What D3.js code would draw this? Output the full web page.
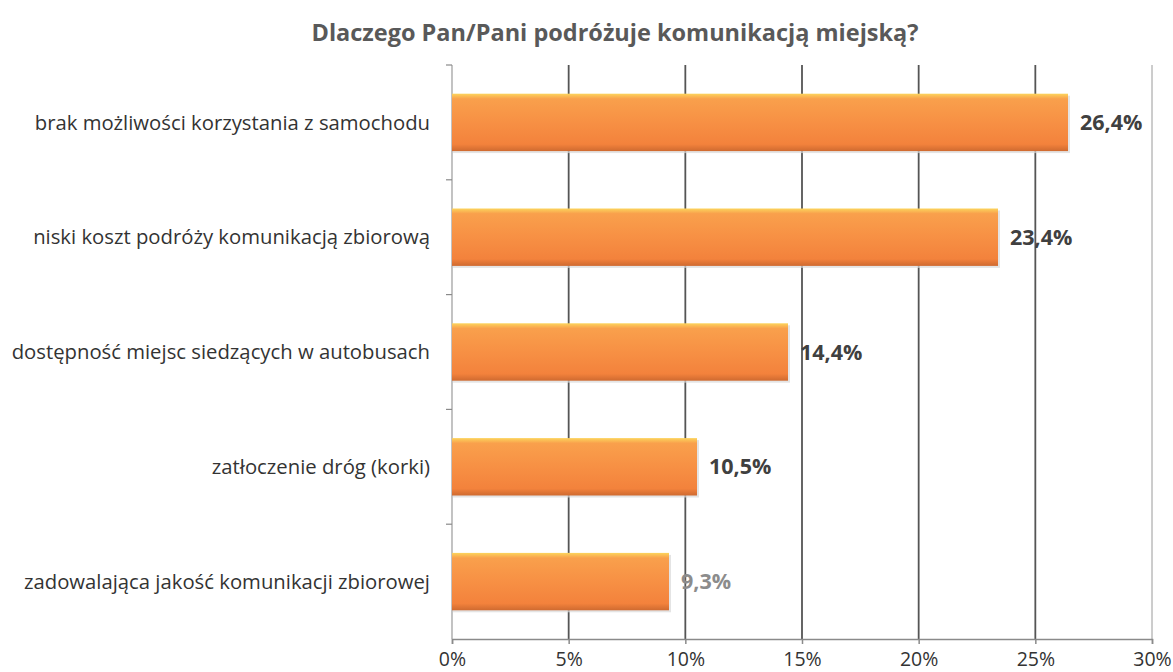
<!DOCTYPE html>
<html>
<head>
<meta charset="utf-8">
<script src="https://cdn.jsdelivr.net/npm/d3@7"></script>
<style>
  body { margin: 0; background: #fff; }
  text { font-family: "Open Sans", "Noto Sans", sans-serif; }
</style>
</head>
<body>
<div id="chart"></div>
<script>
// chart data
const categories = [
  "brak możliwości korzystania z samochodu",
  "niski koszt podróży komunikacją zbiorową",
  "dostępność miejsc siedzących w autobusach",
  "zatłoczenie dróg (korki)",
  "zadowalająca jakość komunikacji zbiorowej"
];
const values = [26.4, 23.4, 14.4, 10.5, 9.3];
const valueLabels = ["26,4%", "23,4%", "14,4%", "10,5%", "9,3%"];
const tickValues = [0, 5, 10, 15, 20, 25, 30];

const width = 1173, height = 672;
const margin = {top: 65, right: 21, bottom: 33, left: 452};

let svg = d3.select("#chart")
    .append("svg")
    .attr("width", width)
    .attr("height", height);

// bar gradient
const defs = svg.append("defs");
const grad = defs.append("linearGradient")
    .attr("id", "barGrad")
    .attr("x1", 0).attr("y1", 0).attr("x2", 0).attr("y2", 1);
grad.append("stop").attr("offset", "0%").attr("stop-color", "#fcd45c");
grad.append("stop").attr("offset", "9%").attr("stop-color", "#f9a04c");
grad.append("stop").attr("offset", "50%").attr("stop-color", "#f79044");
grad.append("stop").attr("offset", "88%").attr("stop-color", "#f3823c");
grad.append("stop").attr("offset", "100%").attr("stop-color", "#cf6a30");

const x = d3.scaleLinear().domain([0, 30]).range([margin.left, width - margin.right]);
const y = d3.scaleBand().domain(categories)
    .range([margin.top, height - margin.bottom])
    .paddingInner(0.5).paddingOuter(0.25);

// title
svg.append("text")
    .attr("x", 615)
    .attr("y", 41)
    .attr("text-anchor", "middle")
    .style("font-size", "23.5px")
    .style("font-weight", "bold")
    .style("fill", "#595959")
    .text("Dlaczego Pan/Pani podróżuje komunikacją miejską?");

// vertical gridlines
svg.append("g")
  .selectAll("line")
  .data(tickValues.slice(1))
  .enter()
  .append("line")
    .attr("x1", d => x(d)).attr("x2", d => x(d))
    .attr("y1", margin.top).attr("y2", height - margin.bottom)
    .attr("stroke", d => d == 30 ? "#9a9a9a" : "#555")
    .attr("stroke-width", d => d == 30 ? 1 : 1.8);

// x axis
const xAxis = svg.append("g")
    .attr("transform", `translate(0, ${height - margin.bottom})`)
    .call(d3.axisBottom(x).tickValues(tickValues).tickSize(5).tickFormat(d => d + "%"));
xAxis.select(".domain").attr("stroke", "#8a8a8a").attr("stroke-width", 1.5);
xAxis.selectAll(".tick line").attr("stroke", "#8a8a8a").attr("stroke-width", 1.5);
xAxis.selectAll(".tick text")
    .attr("dy", "0.95em")
    .style("font-size", "19.5px")
    .style("fill", "#333")
    .style("font-family", "'Open Sans', sans-serif");

// left axis line + category boundary ticks
svg.append("line")
    .attr("x1", margin.left).attr("x2", margin.left)
    .attr("y1", margin.top).attr("y2", height - margin.bottom)
    .attr("stroke", "#9a9a9a").attr("stroke-width", 1.2);
const bounds = d3.range(categories.length).map(i => margin.top + i * (height - margin.top - margin.bottom) / categories.length);
svg.append("g")
  .selectAll("line")
  .data(bounds)
  .enter()
  .append("line")
    .attr("x1", margin.left - 6).attr("x2", margin.left)
    .attr("y1", d => d).attr("y2", d => d)
    .attr("stroke", "#8a8a8a").attr("stroke-width", 1.2);

// bars
const bars = svg.append("g");
bars.selectAll("rect.shadow")
  .data(values)
  .enter()
  .append("rect")
    .attr("class", "shadow")
    .attr("x", margin.left + 1)
    .attr("y", (d, i) => y(categories[i]) + 2)
    .attr("width", d => x(d) - margin.left + 1)
    .attr("height", y.bandwidth())
    .attr("fill", "#d8d8d8")
    .attr("opacity", 0.7);
bars.selectAll("rect.bar")
  .data(values)
  .enter()
  .append("rect")
    .attr("class", "bar")
    .attr("x", margin.left)
    .attr("y", (d, i) => y(categories[i]))
    .attr("width", d => x(d) - margin.left)
    .attr("height", y.bandwidth())
    .attr("fill", "url(#barGrad)");

// value labels
svg.append("g")
  .selectAll("text")
  .data(values)
  .enter()
  .append("text")
    .attr("x", d => x(d) + 12)
    .attr("y", (d, i) => y(categories[i]) + y.bandwidth() / 2)
    .attr("dy", "0.35em")
    .style("font-size", "21.5px")
    .style("font-weight", "bold")
    .style("fill", (d, i) => i == 4 ? "#8c8c8c" : "#404040")
    .text((d, i) => valueLabels[i]);

// category labels
svg.append("g")
  .selectAll("text")
  .data(categories)
  .enter()
  .append("text")
    .attr("x", margin.left - 22)
    .attr("y", d => y(d) + y.bandwidth() / 2)
    .attr("dy", "0.35em")
    .attr("text-anchor", "end")
    .style("font-size", "20.3px")
    .style("fill", "#333")
    .text(d => d);
</script>
</body>
</html>
